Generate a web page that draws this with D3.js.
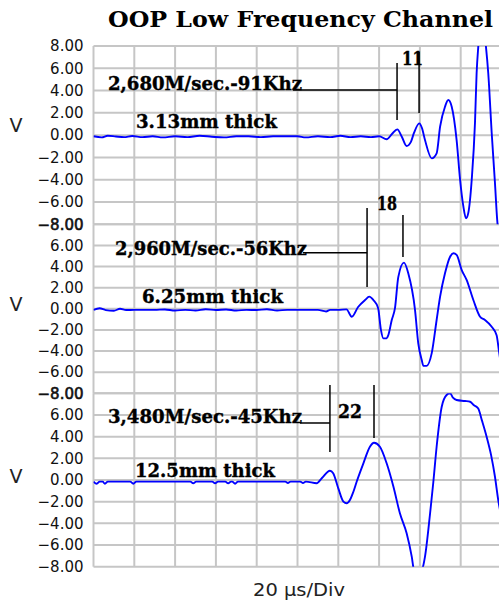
<!DOCTYPE html>
<html><head><meta charset="utf-8">
<script src="https://cdn.jsdelivr.net/npm/d3@7"></script>
<style>html,body{margin:0;padding:0;background:#fff;}svg{display:block;}</style>
</head><body>
<script>
// ---------- DATA ----------
const title = "OOP Low Frequency Channel";
const xLabel = "20 \u00b5s/Div";
const yLabel = "V";
const timeDomain = [0, 200];           // µs (10 divisions x 20 µs)
const voltTicks = [8, 6, 4, 2, 0, -2, -4, -6, -8];
const timeGrid = [0, 20, 40, 60, 80, 100, 120, 140, 160, 180, 200];

// panel 1 : 3.13 mm  [time µs, volts]
const wave313 = [[0,-0.1],[4,-0.2],[7,-0.05],[11,-0.12],[15,-0.18],[19,-0.08],[24,-0.18],[29,-0.1],[34,-0.2],[40,-0.1],[46,-0.18],[52,-0.06],[58,-0.14],[64,-0.2],[70,-0.1],[76,-0.1],[82,-0.18],[88,-0.1],[94,-0.1],[100,-0.1],[104,-0.2],[110,-0.1],[116,-0.18],[121,-0.06],[126,-0.18],[131,-0.1],[136,-0.18],[140,-0.1],
  [143.7,-0.37],[146.3,0.1],[148.9,0.52],[151.2,-0.17],[153.5,-0.97],[155.6,-0.6],[157.1,0.2],[159.7,1.06],[161.0,0.64],[162.5,-0.44],[165.8,-2.08],[168.2,-1.63],[169.9,0.76],[172.3,2.55],[173.9,3.15],[175.6,2.55],[178.0,-0.44],[179.7,-4.0],[181.3,-6.4],[182.6,-7.46],[183.7,-7.0],[185.4,-4.0],[187.0,1.1],[187.8,5.55],[188.6,7.9],[190.4,10.5],[192.4,7.9],[193.5,5.58],[195.2,0.19],[196.8,-4.31],[197.9,-7.63],[199.5,-9.5]];

// panel 2 : 6.25 mm
const wave625 = [[0,-0.1],[3,0.05],[6,-0.12],[10,-0.18],[13,0.0],[16,-0.12],[20,-0.1],[25,-0.1],[30,-0.1],[35,-0.06],[40,-0.16],[45,-0.1],[50,-0.16],[55,-0.04],[60,-0.12],[65,-0.06],[70,-0.16],[75,-0.1],[80,-0.12],[85,-0.04],[90,-0.16],[95,-0.1],[100,-0.1],[105,-0.1],[110,-0.1],[114,-0.25],[116,-0.1],[120,-0.1],[124,-0.05],
  [126.6,-0.75],[129.7,0.17],[133.1,0.83],[135.2,1.15],[137.2,0.83],[139.5,0.08],[140.9,-2.0],[142.1,-2.8],[143.7,-2.8],[144.5,-2.5],[146.2,-1.06],[147.8,0.08],[149.4,3.0],[152.2,4.37],[154.3,3.36],[157.6,-0.1],[159.2,-3.27],[160.9,-4.85],[161.7,-5.4],[163.3,-5.4],[165.8,-4.2],[168.2,-1.06],[169.9,1.15],[172.3,3.36],[174.8,4.93],[176.4,5.26],[178.0,5.1],[180.5,3.67],[182.9,2.73],[186.2,0.83],[189.5,-0.75],[191.9,-1.06],[195.2,-1.7],[197.6,-2.5],[198.8,-4.06],[199.5,-5.0]];

// panel 3 : 12.5 mm
const wave125 = [[0,-0.15],[1.6,-0.35],[3,-0.15],[4.5,-0.15],[5.6,-0.35],[7,-0.15],[18,-0.15],[19.5,-0.35],[21,-0.15],[47.5,-0.15],[48.9,-0.3],[50.3,-0.15],[58.2,-0.15],[59.6,-0.3],[61,-0.15],[64.6,-0.15],[66,-0.3],[67.4,-0.15],[68,-0.15],[69.4,-0.35],[70.8,-0.15],[94,-0.15],[95.3,-0.28],[96.6,-0.15],[101.3,-0.15],[102.7,-0.28],[104.1,-0.15],
  [109.4,-0.3],[112.0,0.18],[115.9,0.86],[117.5,0.62],[120.0,-0.77],[122.5,-2.0],[124.1,-2.15],[125.7,-1.85],[127.4,-1.08],[129.0,-0.16],[132.3,1.54],[135.5,3.07],[137.5,3.44],[140.4,3.07],[143.7,1.54],[147.0,-0.6],[150.2,-3.07],[153.5,-4.92],[156.0,-7.07],[157.1,-8.3],[159.1,-8.6],[161.0,-8.3],[162.5,-7.07],[165.0,-3.07],[166.6,-0.16],[168.2,3.07],[170.7,6.76],[173.1,7.84],[174.8,8.0],[176.2,7.6],[178.0,7.38],[182.1,7.29],[184.6,7.22],[186.5,6.9],[188.6,6.6],[190.4,5.5],[192.7,4.0],[194.9,2.3],[196.8,0.3],[198.4,-1.85],[199.5,-3.0]];

const speedLabels = ["2,680M/sec.-91Khz", "2,960M/sec.-56Khz", "3,480M/sec.-45Khz"];
const thickLabels = ["3.13mm thick", "6.25mm thick", "12.5mm thick"];
const deltaLabels = ["11", "18", "22"];
// annotation marker lines (time µs, volts)
const markerT = [[148.8, 159.6], [134.1, 151.7], [115.9, 137.5]];
const markerStartT = [97.8, 102.7, 101.2];
const markerLevel = [4.05, 5.31, 5.26];
const marker1V = [[6.48, 1.36], [9.55, 2.06], [8.76, 2.58]];
const marker2V = [[7.46, 1.99], [8.88, 4.9], [8.76, 3.87]];

// ---------- LAYOUT ----------
const W = 499, H = 603;
const left = 93.5, right = 501.5;
const panelY = [[46, 224.3], [224.3, 393.3], [393.3, 566.7]];
const waves = [wave313, wave625, wave125];
const speedPos = [[108, 89.5, 194], [115, 254.5, 192], [108, 423, 194]];
const thickPos = [[136, 128, 141], [142, 303, 141], [135, 476.5, 140]];
const deltaPos = [[402, 65, 21], [377, 210, 20], [338, 418, 24]];
const vLabelY = [125, 304, 476];

const svg = d3.select("body").append("svg").attr("width", W).attr("height", H);
svg.append("rect").attr("width", W).attr("height", H).attr("fill", "#fff");

const x = d3.scaleLinear().domain(timeDomain).range([left, right]);
const grid = svg.append("g");
const plots = svg.append("g");
const annots = svg.append("g");
const gridColor = "#c6c6c6";

panelY.forEach((r, i) => {
  const y = d3.scaleLinear().domain([8, -8]).range(r);
  grid.selectAll(null).data(voltTicks).enter().append("line")
    .attr("x1", left).attr("x2", right)
    .attr("y1", d => y(d)).attr("y2", d => y(d))
    .attr("stroke", gridColor).attr("stroke-width", 2);
  grid.selectAll(null).data(timeGrid).enter().append("line")
    .attr("x1", d => x(d)).attr("x2", d => x(d))
    .attr("y1", r[0]).attr("y2", r[1])
    .attr("stroke", gridColor).attr("stroke-width", 2);

  // lower panels share their top line with the panel above: its "8.00" sits under the "-8.00"
  const labelTicks = i === 0 ? voltTicks : voltTicks.slice(1);
  const ax = d3.axisLeft(y).tickValues(labelTicks).tickFormat(d3.format(".2f")).tickSize(0).tickPadding(10);
  const g = svg.append("g").attr("transform", `translate(${left},0)`).call(ax);
  g.select(".domain").remove();
  g.selectAll("text").attr("font-family", "DejaVu Sans").attr("font-size", 15).attr("fill", "#111");
  if (i < 2) {
    g.selectAll(".tick").filter(d => d === -8).select("text")
      .attr("stroke", "#111").attr("stroke-width", 0.6);
  }

  svg.append("text").attr("x", 16).attr("y", vLabelY[i]).attr("text-anchor", "middle")
    .attr("dominant-baseline", "central")
    .attr("font-family", "DejaVu Sans").attr("font-size", 19).attr("fill", "#222").text(yLabel);

  const cid = "clip" + i;
  svg.append("clipPath").attr("id", cid).append("rect")
    .attr("x", left).attr("y", r[0]).attr("width", right - left).attr("height", r[1] - r[0]);

  const line = d3.line().x(d => x(d[0])).y(d => y(d[1])).curve(d3.curveMonotoneX);
  plots.append("path").datum(waves[i]).attr("clip-path", `url(#${cid})`)
    .attr("d", line).attr("fill", "none").attr("stroke", "#0000ff").attr("stroke-width", 1.9)
    .attr("stroke-linejoin", "round");

  const [t1, t2] = markerT[i];
  annots.append("line").attr("x1", x(markerStartT[i])).attr("x2", x(t1))
    .attr("y1", y(markerLevel[i])).attr("y2", y(markerLevel[i]))
    .attr("stroke", "#000").attr("stroke-width", 1.5);
  annots.append("line").attr("x1", x(t1)).attr("x2", x(t1))
    .attr("y1", y(marker1V[i][0])).attr("y2", y(marker1V[i][1]))
    .attr("stroke", "#000").attr("stroke-width", 1.5);
  annots.append("line").attr("x1", x(t2)).attr("x2", x(t2))
    .attr("y1", y(marker2V[i][0])).attr("y2", y(marker2V[i][1]))
    .attr("stroke", "#000").attr("stroke-width", 1.5);

  const serif = (txt, p, fs) => annots.append("text").attr("x", p[0]).attr("y", p[1])
    .attr("font-family", "DejaVu Serif").attr("font-weight", "bold").attr("font-size", fs)
    .attr("textLength", p[2]).attr("lengthAdjust", "spacingAndGlyphs")
    .attr("fill", "#000").attr("stroke", "#000").attr("stroke-width", 0.4).text(txt);
  serif(speedLabels[i], speedPos[i], 18.5);
  serif(thickLabels[i], thickPos[i], 18.5);
  serif(deltaLabels[i], deltaPos[i], 18.5);
});

svg.append("text").attr("x", 108).attr("y", 27)
  .attr("font-family", "DejaVu Serif").attr("font-weight", "bold").attr("font-size", 22.5)
  .attr("textLength", 385).attr("lengthAdjust", "spacingAndGlyphs").attr("fill", "#000").text(title);

svg.append("text").attr("x", 253).attr("y", 596)
  .attr("font-family", "DejaVu Sans").attr("font-size", 18)
  .attr("textLength", 92).attr("lengthAdjust", "spacingAndGlyphs").attr("fill", "#222").text(xLabel);
</script>
</body></html>
